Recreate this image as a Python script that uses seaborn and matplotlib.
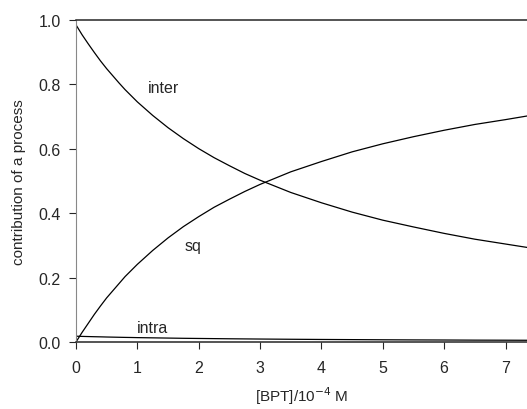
import matplotlib
matplotlib.use("Agg")
import matplotlib.pyplot as plt
import pandas as pd
import seaborn as sns

# ─── Data ─────────────────────────────────────────────────────────
bpt = [0, 0.1, 0.2, 0.3, 0.4, 0.5, 0.6, 0.7, 0.8, 0.9, 1.0, 1.25, 1.5, 1.75,
       2.0, 2.25, 2.5, 2.75, 3.0, 3.5, 4.0, 4.5, 5.0, 5.5, 6.0, 6.5, 7.0, 7.5]
inter = [0.984, 0.953, 0.925, 0.898, 0.872, 0.848, 0.826, 0.804, 0.783, 0.764,
         0.745, 0.703, 0.665, 0.631, 0.600, 0.572, 0.547, 0.523, 0.502, 0.464,
         0.432, 0.403, 0.378, 0.357, 0.337, 0.319, 0.304, 0.289]
sq = [0.000, 0.030, 0.058, 0.086, 0.112, 0.137, 0.159, 0.181, 0.203, 0.222,
      0.241, 0.284, 0.323, 0.358, 0.389, 0.418, 0.443, 0.467, 0.489, 0.528,
      0.560, 0.590, 0.615, 0.637, 0.657, 0.675, 0.690, 0.706]
intra = [0.018, 0.0174, 0.0169, 0.0164, 0.016, 0.0155, 0.0151, 0.0147, 0.0143,
         0.014, 0.0136, 0.0129, 0.0122, 0.0115, 0.011, 0.0105, 0.010, 0.0096,
         0.0092, 0.0085, 0.0079, 0.0074, 0.0069, 0.0065, 0.0062, 0.0058,
         0.0056, 0.0053]

labels = {"inter": (1.42, 0.79), "sq": (1.91, 0.30), "intra": (1.25, 0.045)}

df = pd.DataFrame({"x": bpt, "inter": inter, "sq": sq, "intra": intra})

# ─── Style ────────────────────────────────────────────────────────
sns.set_style("ticks")
plt.rcParams["font.family"] = ["Liberation Sans", "DejaVu Sans"]

fig = plt.figure(figsize=(5.27, 4.10), dpi=100)
ax = fig.add_axes([0.1442, 0.1634, 0.8558, 0.7861])

for col in ["inter", "sq", "intra"]:
    sns.lineplot(data=df, x="x", y=col, ax=ax, color="black", linewidth=0.9)

for name, (lx, ly) in labels.items():
    ax.text(lx, ly, name, fontsize=11.5, ha="center", va="center")

ax.set_xlim(0, 7.35)
ax.set_ylim(0, 1.0)
ax.set_xticks(range(8))
ax.set_yticks([0.0, 0.2, 0.4, 0.6, 0.8, 1.0])
ax.set_yticklabels(["0.0", "0.2", "0.4", "0.6", "0.8", "1.0"])
ax.tick_params(axis="both", labelsize=11.5, length=5, width=0.8, direction="out")
ax.tick_params(axis="y", pad=6)
ax.tick_params(axis="x", pad=8)
ax.set_xlabel("[BPT]/10$^{-4}$ M", fontsize=11, labelpad=7)
ax.set_ylabel("contribution of a process", fontsize=11, labelpad=9)

ax.spines["right"].set_visible(False)
ax.spines["left"].set_color("#888888")
ax.spines["top"].set_linewidth(1.1)
ax.spines["bottom"].set_linewidth(1.1)

fig.savefig("out.png", dpi=100)
